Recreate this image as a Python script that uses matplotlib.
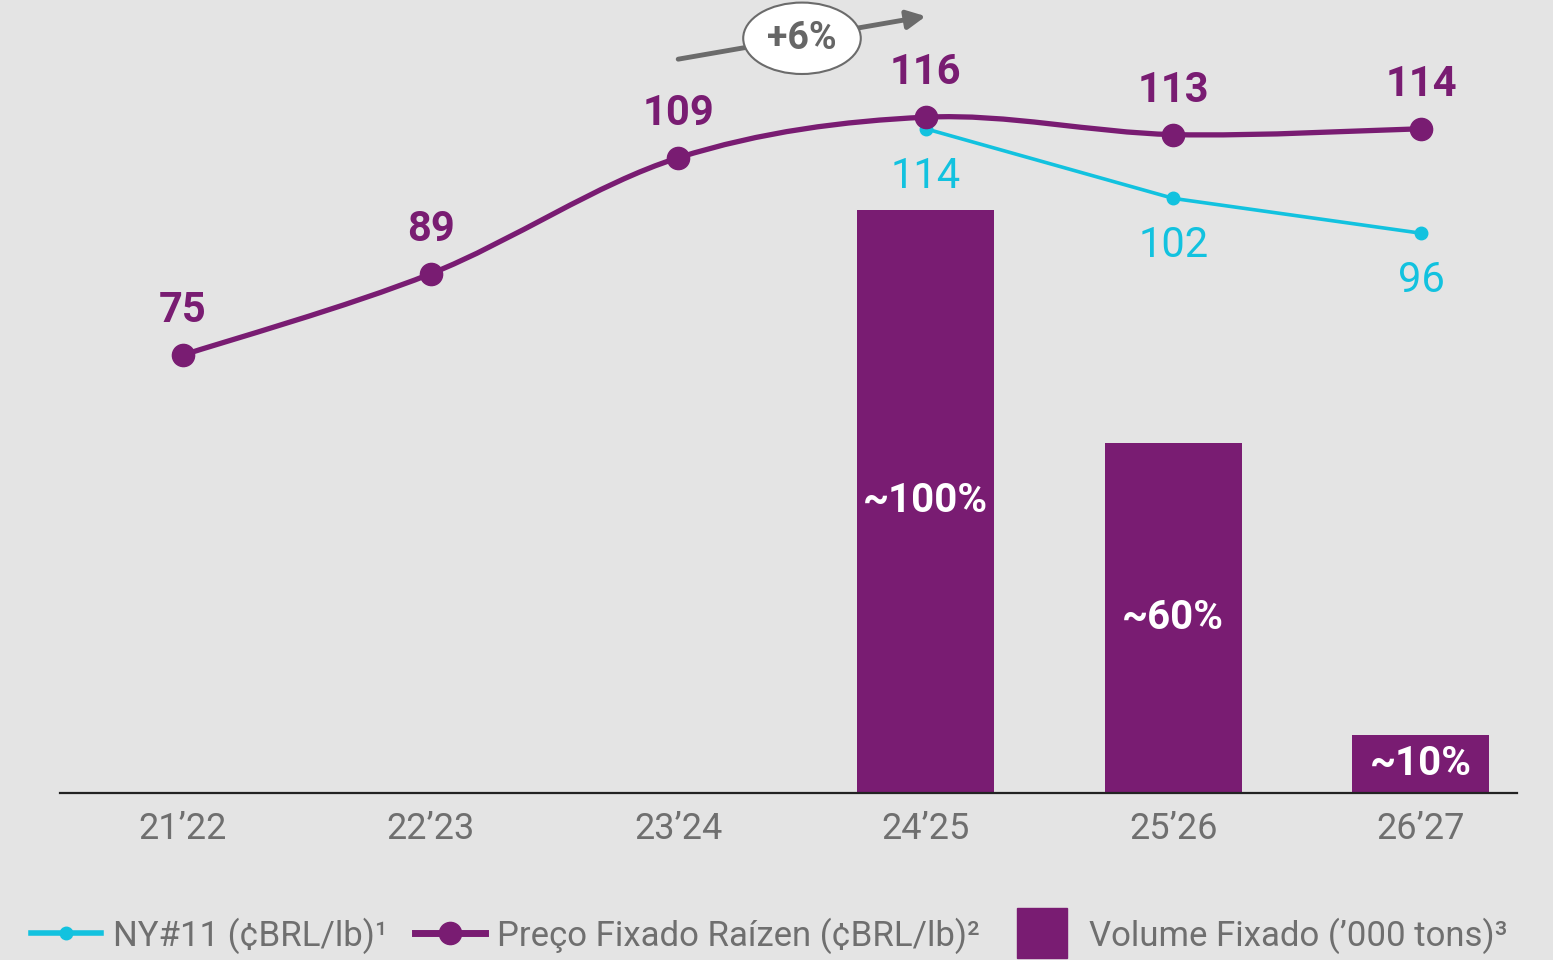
import numpy as np
import matplotlib.pyplot as plt
from matplotlib.path import Path
from matplotlib.patches import PathPatch
from matplotlib.lines import Line2D

plt.rcParams['font.family'] = ['Roboto', 'DejaVu Sans']

safras = ['21’22', '22’23', '23’24', '24’25', '25’26', '26’27']
preco_fixado = [75, 89, 109, 116, 113, 114]
ny11_pos = [3, 4, 5]
ny11 = [114, 102, 96]
volume_pos = [3, 4, 5]
volume_pct = [100, 60, 10]
volume_labels = ['~100%', '~60%', '~10%']

purple = '#791c72'
cyan = '#12c2df'
gray = '#6f6f6f'
bg = '#e4e4e4'

fig = plt.figure(figsize=(15.53, 9.6), dpi=100, facecolor=bg)
ax = fig.add_axes([60/1553, 167/960, 1457/1553, 793/960])
ax.set_facecolor(bg)
ax.set_xlim(-0.497, 5.388)
ax.set_ylim(0, 136)

# bars (volume fixado)
ax.bar(volume_pos, volume_pct, width=0.553, color=purple, zorder=2)
for x, v, lab in zip(volume_pos, volume_pct, volume_labels):
    ax.text(x, v/2, lab, color='white', fontsize=29, fontweight='bold',
            ha='center', va='center', zorder=3)

ax.set_xticks(range(len(safras)))
ax.set_xticklabels(safras, fontsize=26, color=gray)
ax.tick_params(axis='x', length=0, pad=13)
ax.set_yticks([])
for s in ['top', 'left', 'right']:
    ax.spines[s].set_visible(False)
ax.spines['bottom'].set_color('#222222')
ax.spines['bottom'].set_linewidth(1.6)

ax2 = ax.twinx()
ax2.set_ylim(-0.5, 136.2)
ax2.set_yticks([])
for s in ax2.spines.values():
    s.set_visible(False)

# NY#11 line
ax2.plot(ny11_pos, ny11, color=cyan, lw=2.6, marker='o', ms=9, zorder=3)
for x, v in zip(ny11_pos, ny11):
    ax2.annotate(str(v), (x, v), xytext=(0, -34), textcoords='offset points',
                 ha='center', va='center', fontsize=30, color=cyan)

# smooth Preço Fixado line (Catmull-Rom -> bezier)
xs = np.arange(len(preco_fixado), dtype=float)
pts = np.column_stack([xs, preco_fixado]).astype(float)
ext = np.vstack([pts[0], pts, pts[-1]])
verts = [tuple(pts[0])]
codes = [Path.MOVETO]
for i in range(len(pts) - 1):
    p0, p1, p2, p3 = ext[i], ext[i+1], ext[i+2], ext[i+3]
    c1 = p1 + (p2 - p0) / 6
    c2 = p2 - (p3 - p1) / 6
    verts += [tuple(c1), tuple(c2), tuple(p2)]
    codes += [Path.CURVE4] * 3
ax2.add_patch(PathPatch(Path(verts, codes), fc='none', ec=purple, lw=3.8,
                        capstyle='round', zorder=4))
ax2.plot(xs, preco_fixado, ls='none', marker='o', ms=16, color=purple, zorder=5)
for x, v in zip(xs, preco_fixado):
    ax2.annotate(str(v), (x, v), xytext=(0, 32), textcoords='offset points',
                 ha='center', va='center', fontsize=30, fontweight='bold',
                 color=purple)

# +6% arrow
ax2.annotate('', xy=(3.0, 133.4), xytext=(2.0, 126.0),
             arrowprops=dict(arrowstyle='-|>', lw=3.5, color='#6b6b6b',
                             mutation_scale=28, shrinkA=0, shrinkB=0), zorder=6)
ax2.text(2.5, 129.6, '+6%', ha='center', va='center', fontsize=27,
         fontweight='bold', color='#666666', zorder=7,
         bbox=dict(boxstyle='ellipse,pad=0.18', fc='white', ec='#6b6b6b', lw=1.5))

handles = [
    Line2D([], [], color=cyan, lw=4, marker='o', ms=9),
    Line2D([], [], color=purple, lw=5, marker='o', ms=16),
    Line2D([], [], ls='none', marker='s', ms=36, color=purple),
]
labels = ['NY#11 (¢BRL/lb)¹', 'Preço Fixado Raízen (¢BRL/lb)²',
          'Volume Fixado (’000 tons)³']
fig.legend(handles, labels, loc='lower left', bbox_to_anchor=(0.0, -0.026),
           ncol=3, frameon=False, fontsize=25, labelcolor=gray,
           handlelength=2.0, handletextpad=0.35, columnspacing=0.8,
           numpoints=1)

fig.savefig('out.png', dpi=100, facecolor=bg)
